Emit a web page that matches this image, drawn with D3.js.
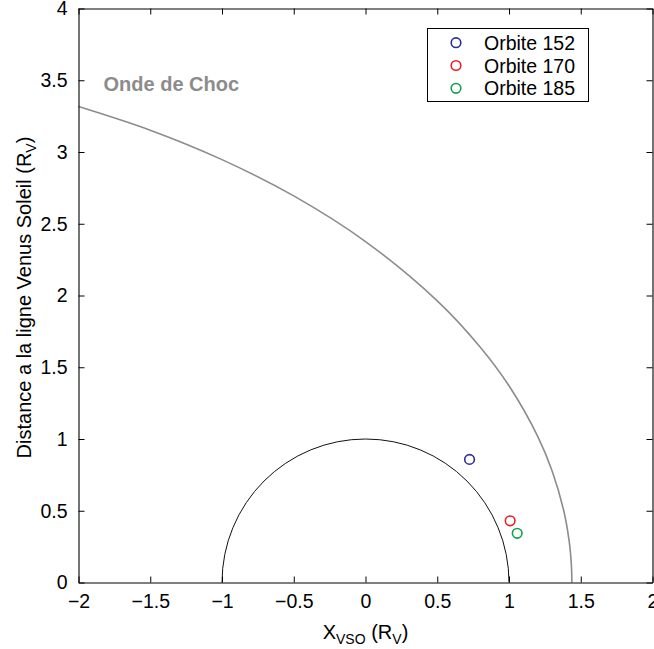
<!DOCTYPE html>
<html>
<head>
<meta charset="utf-8">
<script src="https://cdn.jsdelivr.net/npm/d3@7"></script>
<style>
  html, body { margin: 0; padding: 0; background: #fff; }
  svg { display: block; font-family: "Liberation Sans", Arial, Helvetica, sans-serif; }
</style>
</head>
<body>
<svg id="chart" width="654" height="649"></svg>
<script>
// ---- data ----
const xTicks = [-2, -1.5, -1, -0.5, 0, 0.5, 1, 1.5, 2];
const xTickLabels = ["\u22122", "\u22121.5", "\u22121", "\u22120.5", "0", "0.5", "1", "1.5", "2"];
const yTicks = [0, 0.5, 1, 1.5, 2, 2.5, 3, 3.5, 4];
const yTickLabels = ["0", "0.5", "1", "1.5", "2", "2.5", "3", "3.5", "4"];

const orbitNames = ["Orbite 152", "Orbite 170", "Orbite 185"];
const orbitX = [0.725, 1.008, 1.057];
const orbitY = [0.858, 0.430, 0.343];
const orbitColors = ["#2b2d96", "#ec1c24", "#0ea14c"];

// bow shock ("Onde de Choc") points
const shockX = [-2.00, -1.50, -1.00, -0.50, 0.00, 0.50, 0.80, 1.00, 1.20, 1.30, 1.38, 1.42, 1.435, 1.438];
const shockY = [3.317, 3.152, 2.947, 2.694, 2.376, 1.963, 1.640, 1.371, 1.019, 0.779, 0.507, 0.283, 0.116, 0];
const shockLabel = "Onde de Choc";

const venusRadius = 1;

// ---- layout ----
const svg = d3.select("#chart");
const x = d3.scaleLinear().domain([-2, 2]).range([78.5, 652.5]);
const y = d3.scaleLinear().domain([0, 4]).range([582.5, 8.5]);
const FS = 19.5;

// bow shock
svg.append("path")
  .datum(shockX.map((v, i) => [v, shockY[i]]))
  .attr("fill", "none")
  .attr("stroke", "#8c8c8c")
  .attr("stroke-width", 1.6)
  .attr("d", d3.line().x(d => x(d[0])).y(d => y(d[1])).curve(d3.curveCatmullRom.alpha(0.5)));

// Venus (unit half-circle)
const r = x(venusRadius) - x(0);
svg.append("path")
  .attr("fill", "none")
  .attr("stroke", "#111")
  .attr("stroke-width", 1)
  .attr("d", `M${x(-venusRadius)},${y(0)} A${r},${y(0) - y(venusRadius)} 0 0 1 ${x(venusRadius)},${y(0)}`);

// orbit points
svg.selectAll("circle.pt")
  .data(orbitX.map((v, i) => ({x: v, y: orbitY[i], c: orbitColors[i]})))
  .join("circle")
  .attr("class", "pt")
  .attr("cx", d => x(d.x))
  .attr("cy", d => y(d.y))
  .attr("r", 4.8)
  .attr("fill", "none")
  .attr("stroke", d => d.c)
  .attr("stroke-width", 1.6);

// axes (box with inward ticks)
const gb = svg.append("g").attr("transform", `translate(0,${y(0)})`)
  .call(d3.axisBottom(x).tickValues(xTicks).tickSizeInner(-6).tickSizeOuter(0).tickPadding(12)
    .tickFormat((d, i) => xTickLabels[i]));
const gt = svg.append("g").attr("transform", `translate(0,${y(4)})`)
  .call(d3.axisTop(x).tickValues(xTicks).tickSizeInner(-6).tickSizeOuter(0).tickFormat(""));
const gl = svg.append("g").attr("transform", `translate(${x(-2)},0)`)
  .call(d3.axisLeft(y).tickValues(yTicks).tickSizeInner(-6).tickSizeOuter(0).tickPadding(11)
    .tickFormat((d, i) => yTickLabels[i]));
const gr = svg.append("g").attr("transform", `translate(${x(2)},0)`)
  .call(d3.axisRight(y).tickValues(yTicks).tickSizeInner(-6).tickSizeOuter(0).tickFormat(""));

[gb, gt, gl, gr].forEach(g => {
  g.selectAll("path.domain").attr("stroke", "#000").attr("stroke-width", 1.1);
  g.selectAll("line").attr("stroke", "#000").attr("stroke-width", 1);
  g.selectAll("text").attr("fill", "#000").style("font-size", FS + "px")
    .style("font-family", "'Liberation Sans', Arial, sans-serif");
});
gb.selectAll("text").attr("dy", "0.71em");

// shock label
svg.append("text")
  .attr("x", 103.5).attr("y", 91)
  .attr("fill", "#8c8c8c")
  .style("font-size", "20px").style("font-weight", "bold")
  .text(shockLabel);

// x axis label
const xl = svg.append("text")
  .attr("x", x(0)).attr("y", 639)
  .attr("text-anchor", "middle")
  .style("font-size", "20px").attr("fill", "#000");
xl.append("tspan").text("X");
xl.append("tspan").attr("dy", 5).style("font-size", "14px").text("VSO");
xl.append("tspan").attr("dy", -5).text(" (R");
xl.append("tspan").attr("dy", 5).style("font-size", "14px").text("V");
xl.append("tspan").attr("dy", -5).text(")");

// y axis label
const yl = svg.append("text")
  .attr("transform", `translate(31,${(y(0) + y(4)) / 2 + 2}) rotate(-90)`)
  .attr("text-anchor", "middle")
  .style("font-size", "20px").attr("fill", "#000");
yl.append("tspan").text("Distance a la ligne Venus Soleil (R");
yl.append("tspan").attr("dy", 5).style("font-size", "14px").text("V");
yl.append("tspan").attr("dy", -5).text(")");

// legend
const lg = svg.append("g");
lg.append("rect")
  .attr("x", 427.5).attr("y", 28.5).attr("width", 161).attr("height", 73)
  .attr("fill", "#fff").attr("stroke", "#000").attr("stroke-width", 1);
orbitNames.forEach((name, i) => {
  const cy = 42.7 + i * 22.8;
  lg.append("circle").attr("cx", 456).attr("cy", cy).attr("r", 4.8)
    .attr("fill", "none").attr("stroke", orbitColors[i]).attr("stroke-width", 1.6);
  lg.append("text").attr("x", 484).attr("y", cy).attr("dy", "0.36em")
    .style("font-size", "19.5px").attr("fill", "#000").text(name);
});
</script>
</body>
</html>
